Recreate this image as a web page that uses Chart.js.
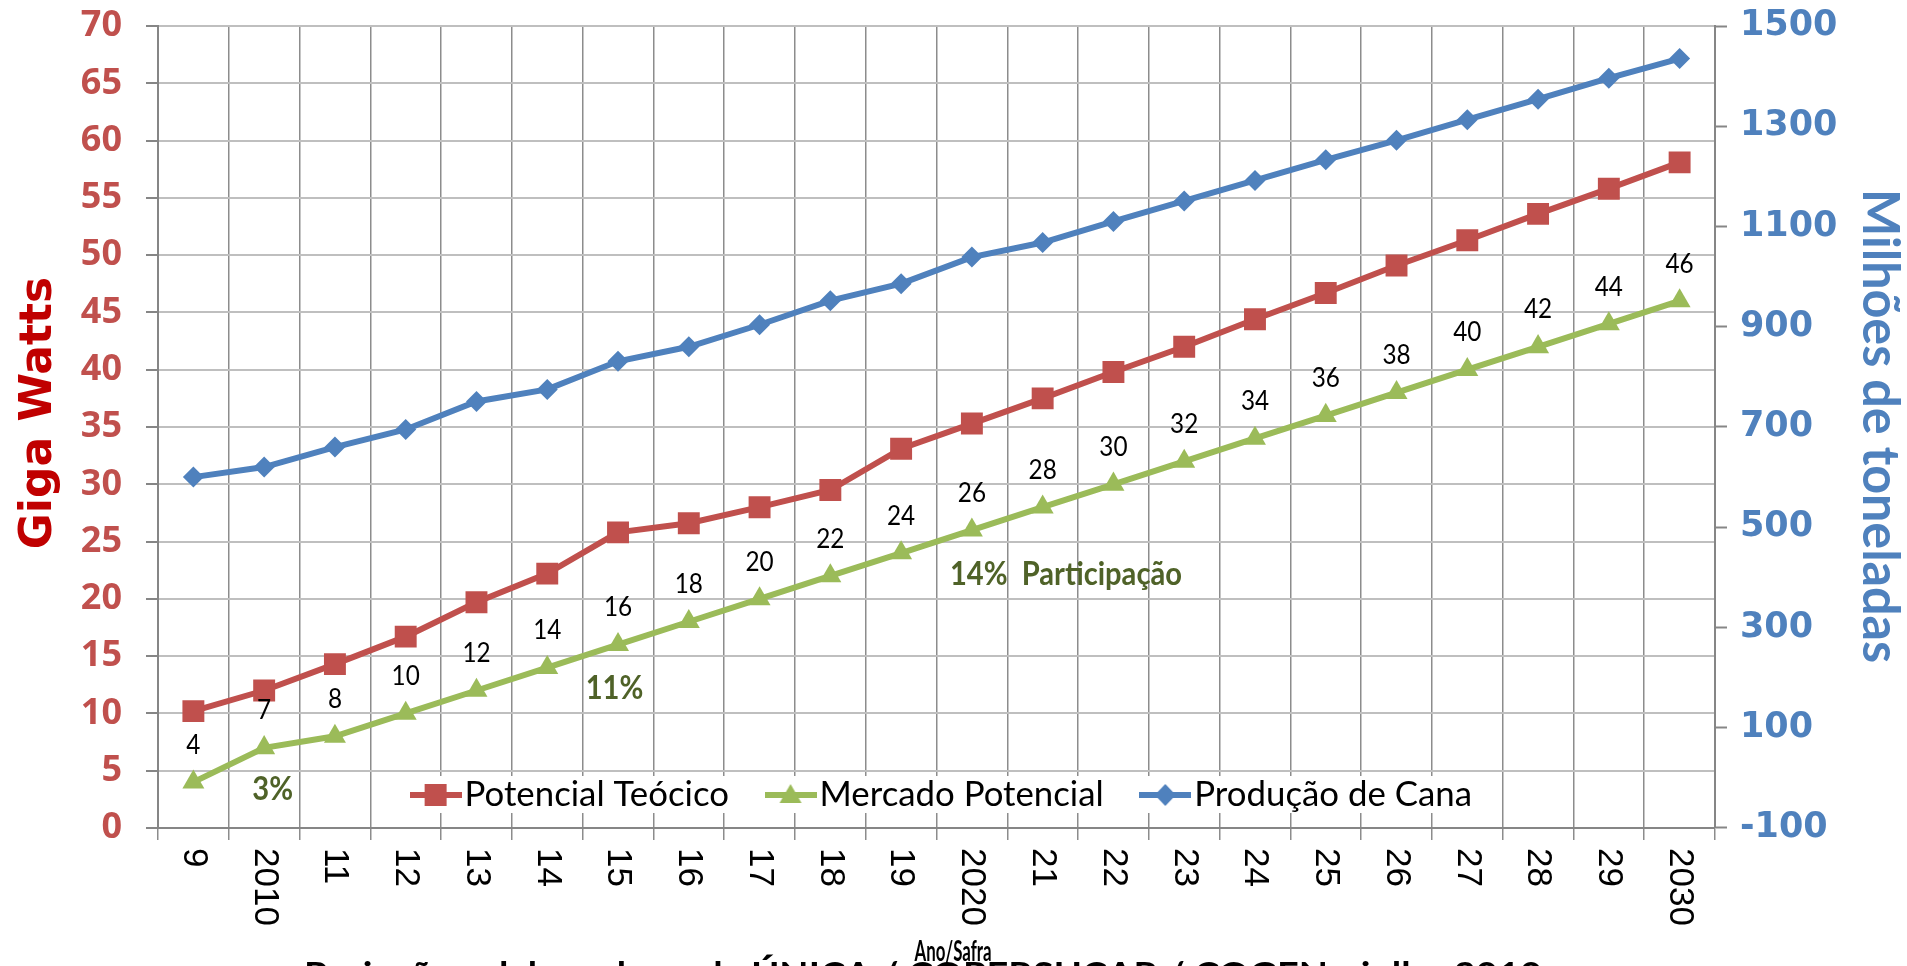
<!DOCTYPE html>
<html lang="pt-BR">
<head>
<meta charset="utf-8">
<title>Bioeletricidade da cana</title>
<script src="https://cdn.jsdelivr.net/npm/chart.js@4.4.1/dist/chart.umd.min.js"></script>
<style>
html,body{margin:0;padding:0;background:#fff;overflow:hidden;}
#box{position:relative;width:1907px;height:966px;}
canvas{display:block;}
</style>
</head>
<body>
<div id="box"><canvas id="grafico" width="1907" height="966"></canvas></div>
<script>
// Safras (eixo X)
const safras = ['9','2010','11','12','13','14','15','16','17','18','19','2020','21','22','23','24','25','26','27','28','29','2030'];
// Giga Watts (eixo esquerdo)
const potencialTeorico = [10.2,12.0,14.3,16.7,19.7,22.2,25.8,26.6,28.0,29.5,33.1,35.3,37.5,39.8,42.0,44.4,46.7,49.1,51.3,53.6,55.8,58.1];
const mercadoPotencial = [4,7,8,10,12,14,16,18,20,22,24,26,28,30,32,34,36,38,40,42,44,46];
// Milhões de toneladas (eixo direito)
const producaoCana = [600,620,660,695,751,775,831,860,904,952,986,1039,1068,1110,1151,1192,1233,1272,1313,1354,1396,1435];
// Rótulos dos eixos
const ticksGW = [0,5,10,15,20,25,30,35,40,45,50,55,60,65,70];
const ticksCana = [-100,100,300,500,700,900,1100,1300,1500];
const nomesSeries = ['Potencial Teócico','Mercado Potencial','Produção de Cana'];
const notasParticipacao = ['3%','11%','14%  Participação'];
const tituloEixoX = 'Ano/Safra';
const tituloGW = 'Giga Watts';
const tituloCana = 'Milhões de toneladas';
const fonteDados = 'Projeções elaboradas pela ÚNICA / COPERSUCAR / COGEN - julho 2010';

// ---------- aparência ----------
const COR = {
  red: '#C0504D', green: '#9BBB59', blue: '#4F81BD', nota: '#4F6228',
  gridH: '#BFBFBF', gridV: '#8C8C8C', eixo: '#868686', gw: '#C00000'
};
const HUMAN = 'Lato, "Open Sans", "Liberation Sans", sans-serif';
const WIDE = '"DejaVu Sans", Verdana, sans-serif';

// posição das notas de participação (índice da safra, valor em GW)
const posNotas = [
  {i: 1.12, v: 3.3, align: 'center'},
  {i: 5.95, v: 12.2, align: 'center'},
  {i: 10.69, v: 22.15, align: 'left'}
];

function larguraTexto(txt, font) {
  const c = document.createElement('canvas').getContext('2d');
  c.font = font;
  return c.measureText(txt).width;
}

// texto comprimido na horizontal (fator sx)
function textoEsticado(ctx, txt, x, y, sx, align) {
  ctx.save();
  ctx.translate(x, y);
  ctx.scale(sx, 1);
  ctx.textAlign = align;
  ctx.fillText(txt, 0, 0);
  ctx.restore();
}

// corpo da legenda: largura do primeiro rótulo ~264 px
const LEG_FS = Math.round(1000 * 264 / larguraTexto(nomesSeries[0], '100px ' + HUMAN)) / 10;

// símbolo de legenda: traço com o marcador no meio
function simbolo(cor, forma) {
  const cv = document.createElement('canvas');
  cv.width = 52; cv.height = 28;
  const g = cv.getContext('2d');
  g.strokeStyle = cor; g.lineWidth = 6;
  g.beginPath(); g.moveTo(0, 14); g.lineTo(52, 14); g.stroke();
  g.fillStyle = cor;
  g.beginPath();
  if (forma === 'rect') {
    g.rect(26 - 11, 14 - 11, 22, 22);
  } else if (forma === 'triangle') {
    g.moveTo(26, 3); g.lineTo(37, 22); g.lineTo(15, 22); g.closePath();
  } else {
    g.moveTo(26, 3); g.lineTo(36.5, 14); g.lineTo(26, 25); g.lineTo(15.5, 14); g.closePath();
  }
  g.fill();
  return cv;
}
const simbolos = [simbolo(COR.red, 'rect'), simbolo(COR.green, 'triangle'), simbolo(COR.blue, 'rectRot')];

// legenda dentro da área do gráfico, com fundo branco
const LEG_CENTRO_Y = 795, LEG_CENTRO_X = 948;
const posLegenda = {
  id: 'posLegenda',
  afterLayout(chart) {
    const lg = chart.legend;
    if (!lg) return;
    const pad = lg.options.labels.padding;
    const fs = lg.options.labels.font.size;
    lg.left = LEG_CENTRO_X - 760;
    lg.right = LEG_CENTRO_X + 760;
    lg.top = LEG_CENTRO_Y - pad - fs / 2;
    lg.bottom = lg.top + 2 * pad + fs;
    if (!lg._fundoBranco) {
      lg._fundoBranco = true;
      const desenhar = lg.draw.bind(lg);
      lg.draw = function (area) {
        const hb = this.legendHitBoxes;
        if (hb && hb.length) {
          const c = this.ctx;
          const ult = hb[hb.length - 1];
          const x0 = hb[0].left - 20;
          c.save();
          c.fillStyle = '#FFFFFF';
          c.fillRect(x0, LEG_CENTRO_Y - 19, ult.left + ult.width + 7 - x0, 37);
          c.restore();
        }
        desenhar(area);
      };
    }
  }
};

// textos: rótulos de dados, notas, rótulos do eixo X, títulos
const textos = {
  id: 'textos',
  afterDatasetsDraw(chart) {
    const {ctx, scales: {x, y}} = chart;
    ctx.save();
    const meta = chart.getDatasetMeta(1);
    ctx.font = '27px ' + HUMAN;
    ctx.fillStyle = '#000';
    ctx.textBaseline = 'middle';
    meta.data.forEach((pt, i) => textoEsticado(ctx, String(mercadoPotencial[i]), pt.x, pt.y - 37, 0.9, 'center'));

    ctx.font = 'bold 32px ' + HUMAN;
    ctx.fillStyle = COR.nota;
    const sx = 232 / ctx.measureText(notasParticipacao[2]).width;
    const passo = x.getPixelForValue(1) - x.getPixelForValue(0);
    notasParticipacao.forEach((t, k) => {
      const p = posNotas[k];
      const px = x.getPixelForValue(0) + p.i * passo;
      textoEsticado(ctx, t, px, y.getPixelForValue(p.v), sx, p.align);
    });
    ctx.restore();
  },
  afterDraw(chart) {
    const {ctx, chartArea, scales: {x}} = chart;
    ctx.save();
    // rótulos do eixo X, girados no sentido horário
    ctx.font = '35px "Liberation Sans", Arial, sans-serif';
    ctx.fillStyle = '#000';
    ctx.textAlign = 'left';
    ctx.textBaseline = 'middle';
    safras.forEach((s, i) => {
      ctx.save();
      ctx.translate(x.getPixelForTick(i), chartArea.bottom + 20);
      ctx.rotate(Math.PI / 2);
      ctx.fillText(s, 0, 0);
      ctx.restore();
    });
    // título do eixo esquerdo
    ctx.save();
    ctx.font = 'bold 44px ' + WIDE;
    ctx.fillStyle = COR.gw;
    ctx.textAlign = 'center';
    ctx.translate(40, 413);
    ctx.rotate(-Math.PI / 2);
    ctx.fillText(tituloGW, 0, 0);
    ctx.restore();
    // título do eixo direito
    ctx.save();
    ctx.font = 'bold 52px ' + HUMAN;
    ctx.fillStyle = COR.blue;
    ctx.textBaseline = 'middle';
    ctx.translate(1880, 426);
    ctx.rotate(Math.PI / 2);
    textoEsticado(ctx, tituloCana, 0, 0, 474 / ctx.measureText(tituloCana).width, 'center');
    ctx.restore();
    // título do eixo X
    ctx.font = 'bold 29px ' + HUMAN;
    ctx.textBaseline = 'alphabetic';
    textoEsticado(ctx, tituloEixoX, 953, 961, 77 / ctx.measureText(tituloEixoX).width, 'center');
    // fonte dos dados (rodapé)
    ctx.font = 'bold 34px ' + HUMAN;
    ctx.textBaseline = 'alphabetic';
    textoEsticado(ctx, fonteDados, 304, 987, 1238 / ctx.measureText(fonteDados).width, 'left');
    ctx.restore();
  }
};

const semPadding = (s) => { s.paddingTop = 0; s.paddingBottom = 0; };

new Chart(document.getElementById('grafico'), {
  type: 'line',
  data: {
    labels: safras,
    datasets: [
      {label: nomesSeries[0], data: potencialTeorico, yAxisID: 'y', borderColor: COR.red, backgroundColor: COR.red,
       borderWidth: 6, pointStyle: 'rect', pointRadius: 15.5, pointBorderWidth: 0, tension: 0, order: 2},
      {label: nomesSeries[1], data: mercadoPotencial, yAxisID: 'y', borderColor: COR.green, backgroundColor: COR.green,
       borderWidth: 6, pointStyle: 'triangle', pointRadius: 12.7, pointBorderWidth: 0, tension: 0, order: 1},
      {label: nomesSeries[2], data: producaoCana, yAxisID: 'y1', borderColor: COR.blue, backgroundColor: COR.blue,
       borderWidth: 6, pointStyle: 'rectRot', pointRadius: 10.5, pointBorderWidth: 0, tension: 0, order: 3}
    ]
  },
  options: {
    responsive: false,
    animation: false,
    events: [],
    layout: {padding: {top: 26, left: 0, right: 0, bottom: 0}},
    plugins: {
      tooltip: {enabled: false},
      title: {display: false},
      legend: {
        position: 'bottom',
        maxHeight: 0.01,
        labels: {
          usePointStyle: true,
          pointStyleWidth: Math.max(4, 58 - LEG_FS),
          boxHeight: LEG_FS,
          padding: 50,
          color: '#000',
          font: {family: HUMAN, size: LEG_FS},
          generateLabels(chart) {
            return chart.data.datasets.map((ds, i) => ({
              text: ds.label, pointStyle: simbolos[i], datasetIndex: i,
              hidden: false, lineWidth: 0, strokeStyle: 'rgba(0,0,0,0)', fillStyle: ds.borderColor
            }));
          }
        }
      }
    },
    scales: {
      x: {
        type: 'category',
        offset: true,
        afterFit(s) { s.height = 966 - 828; },
        ticks: {display: false},
        grid: {offset: true, color: COR.gridV, lineWidth: 1.5, tickLength: 12, tickColor: COR.gridV, tickWidth: 1.5},
        border: {display: true, color: COR.eixo, width: 2}
      },
      y: {
        type: 'linear', position: 'left', min: 0, max: 70,
        afterFit(s) { s.width = 158; semPadding(s); },
        afterBuildTicks(s) { s.ticks = ticksGW.map(v => ({value: v})); },
        ticks: {color: COR.red, padding: 24, callback: (v) => String(v),
                font: {family: '"Open Sans", sans-serif', size: 36, weight: 'bold'}},
        grid: {color: COR.gridH, lineWidth: 2, tickLength: 12, tickColor: COR.eixo, tickWidth: 2},
        border: {display: true, color: COR.eixo, width: 2}
      },
      y1: {
        type: 'linear', position: 'right', min: -100, max: 1500,
        afterFit(s) { s.width = 1907 - 1715; semPadding(s); },
        afterBuildTicks(s) { s.ticks = ticksCana.map(v => ({value: v})); },
        ticks: {color: COR.blue, padding: 13, callback: (v) => String(v),
                font: {family: WIDE, size: 35, weight: 'bold'}},
        grid: {drawOnChartArea: false, tickLength: 12, tickColor: COR.eixo, tickWidth: 2},
        border: {display: true, color: COR.eixo, width: 2}
      }
    }
  },
  plugins: [posLegenda, textos]
});
</script>
</body>
</html>
